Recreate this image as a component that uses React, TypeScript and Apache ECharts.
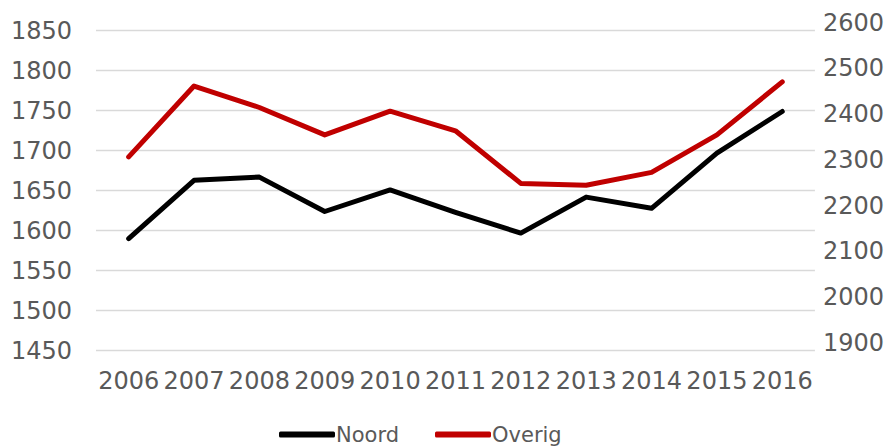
import React, { useEffect, useRef } from "react";
import * as echarts from "echarts";

const years = ["2006", "2007", "2008", "2009", "2010", "2011", "2012", "2013", "2014", "2015", "2016"];
const noord = [1590, 1663, 1667, 1624, 1651, 1623, 1597, 1642, 1628, 1697, 1749];
const overig = [2324, 2479, 2432, 2372, 2424, 2381, 2266, 2262, 2290, 2372, 2488];
const leftTicks = { min: 1450, max: 1850, interval: 50 };
const rightTicks = { min: 1900, max: 2600, interval: 100 };

const FONT = "DejaVu Sans";
const GRAY = "#595959";

export default function App() {
  const ref = useRef<HTMLDivElement>(null);
  useEffect(() => {
    if (!ref.current) return;
    const chart = echarts.init(ref.current, undefined, { renderer: "svg" });
    chart.setOption({
      animation: false,
      grid: { left: 96, right: 68, top: 30.7, bottom: 95.3, containLabel: false },
      legend: {
        left: 279,
        top: 424,
        padding: 0,
        itemGap: 36,
        itemWidth: 56,
        itemHeight: 6,
        icon: "roundRect",
        textStyle: { fontFamily: FONT, fontSize: 21, color: GRAY, padding: [0, 0, 0, -4] },
        data: ["Noord", "Overig"],
      },
      xAxis: {
        type: "category",
        data: years,
        boundaryGap: true,
        axisLine: { show: false },
        axisTick: { show: false },
        axisLabel: { fontFamily: FONT, fontSize: 24, color: GRAY, margin: 18, interval: 0 },
      },
      yAxis: [
        {
          type: "value",
          min: leftTicks.min,
          max: leftTicks.max,
          interval: leftTicks.interval,
          axisLine: { show: false },
          axisTick: { show: false },
          splitLine: { lineStyle: { color: "#D9D9D9", width: 1.3 } },
          axisLabel: {
            fontFamily: FONT,
            fontSize: 24,
            color: GRAY,
            margin: 24,
            formatter: (v: number) => String(v),
          },
        },
        {
          type: "value",
          min: rightTicks.min,
          max: rightTicks.max,
          interval: rightTicks.interval,
          axisLine: { show: false },
          axisTick: { show: false },
          splitLine: { show: false },
          axisLabel: {
            fontFamily: FONT,
            fontSize: 24,
            color: GRAY,
            margin: 8,
            verticalAlign: "bottom",
            lineHeight: 16,
            formatter: (v: number) => String(v),
          },
        },
      ],
      series: [
        {
          name: "Noord",
          type: "line",
          yAxisIndex: 0,
          data: noord,
          symbol: "none",
          lineStyle: { color: "#000000", width: 5, cap: "round", join: "round" },
          itemStyle: { color: "#000000" },
        },
        {
          name: "Overig",
          type: "line",
          yAxisIndex: 1,
          data: overig,
          symbol: "none",
          lineStyle: { color: "#C00000", width: 5, cap: "round", join: "round" },
          itemStyle: { color: "#C00000" },
        },
      ],
    });
    return () => chart.dispose();
  }, []);
  return <div ref={ref} style={{ width: 887, height: 446, position: "absolute", left: 0, top: 0 }} />;
}
